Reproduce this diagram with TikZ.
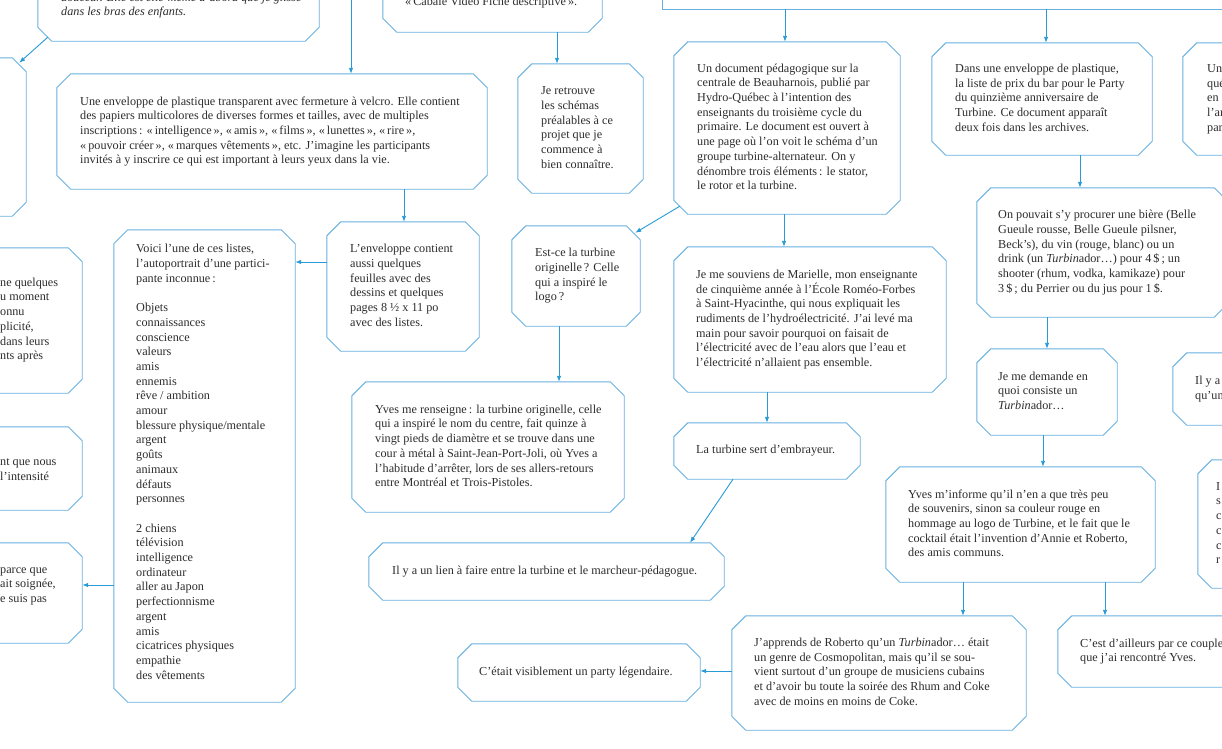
\documentclass[tikz,border=0pt]{standalone}
\usepackage{fontspec}
\setmainfont{Liberation Serif}
\usetikzlibrary{arrows.meta}
\definecolor{boxc}{RGB}{105,178,224}
\definecolor{arrc}{RGB}{40,155,215}
\definecolor{txtc}{RGB}{45,45,45}
\newcommand\boxtext[1]{\begin{tabular}{@{}l@{}}#1\end{tabular}}
\newcommand\chamfdraw[1]{%
  \draw[boxline] ([yshift=-14pt]#1.north west) -- ([xshift=14pt]#1.north west) -- ([xshift=-14pt]#1.north east) -- ([yshift=-14pt]#1.north east) -- ([yshift=14pt]#1.south east) -- ([xshift=-14pt]#1.south east) -- ([xshift=14pt]#1.south west) -- ([yshift=14pt]#1.south west) -- cycle;}
\newcommand\cboxe[5]{%
  \node[bx, minimum width={#4-(#2)}, minimum height={#5-(#3)}] (#1) at ({(#2+#4)/2},{(#3+#5)/2}) {};
  \chamfdraw{#1}}
\newcommand\cbox[8]{%
  \cboxe{#1}{#2}{#3}{#4}{#5}%
  \node[txt] (#1-t) at (#6,#7) {\boxtext{#8}};}
\newcommand\vconn[3]{\coordinate (vx) at (#3,0); \draw[arr] (#1.south -| vx) -- (#2.north -| vx);}
\newcommand\hconn[3]{\coordinate (hy) at (0,#3); \draw[arr] (#1.west |- hy) -- (#2.east |- hy);}
\tikzset{
  bx/.style={rectangle, draw=none, inner sep=0pt},
  boxline/.style={draw=boxc, line width=0.9pt},
  txt/.style={anchor=west, inner sep=0pt, text=txtc, font=\fontsize{12.2}{14.7}\selectfont},
  arr/.style={draw=arrc, line width=0.9pt, -{Latex[length=6pt,width=4.5pt]}}
}
\begin{document}
\begin{tikzpicture}[x=1pt,y=-1pt]
\useasboundingbox (0,0) rectangle (1222,748);
\fill[white] (0,0) rectangle (1222,748);
\clip (0,0) rectangle (1222,748);

% top row (cut)
\cboxe{tl}{38}{-120}{319}{41}
\node[txt] (tl-t) at (61,5.6) {\itshape\boxtext{douceur. Elle est elle-même d’abord que je glisse\\dans les bras des enfants.}};
\cboxe{lA}{-150}{58}{26}{216}
\cbox{tc}{383}{-100}{602}{32}{405}{3}{«\,Cabale Vidéo Fiche descriptive\,».}
\node[bx, boxline, minimum width=738, minimum height=109] (tr) at (1031,-45.5) {};

% left column
\cbox{B}{-150}{248}{82}{393}{0}{320}{ne quelques\\u moment\\onnu\\plicité,\\dans leurs\\nts après}
\cbox{C}{-150}{427}{82}{510}{0}{470}{nt que nous\\l’intensité}
\cbox{D}{-150}{543}{82}{643}{0}{585}{parce que\\ait soignée,\\e suis pas}

\cbox{env}{57}{74}{487}{189}{80}{131.5}{Une enveloppe de plastique transparent avec fermeture à velcro. Elle contient\\des papiers multicolores de diverses formes et tailles, avec de multiples\\inscriptions\,: «\,intelligence\,», «\,amis\,», «\,films\,», «\,lunettes\,», «\,rire\,»,\\«\,pouvoir créer\,», «\,marques vêtements\,», etc. J’imagine les participants\\invités à y inscrire ce qui est important à leurs yeux dans la vie.}
\cbox{jer}{518}{64}{643}{193}{541}{128.5}{Je retrouve\\les schémas\\préalables à ce\\projet que je\\commence à\\bien connaître.}
\cbox{doc}{674}{42}{900}{214}{697}{128}{Un document pédagogique sur la\\centrale de Beauharnois, publié par\\Hydro-Québec à l’intention des\\enseignants du troisième cycle du\\primaire. Le document est ouvert à\\une page où l’on voit le schéma d’un\\groupe turbine-alternateur. On y\\dénombre trois éléments\,: le stator,\\le rotor et la turbine.}
\cbox{dans}{932}{43}{1152}{155}{955}{99}{Dans une enveloppe de plastique,\\la liste de prix du bar pour le Party\\du quinzième anniversaire de\\Turbine. Ce document apparaît\\deux fois dans les archives.}
\cbox{uq}{1183}{43}{1400}{155}{1207}{99}{Un\\qué\\en a\\l’ar\\par}

\cbox{voici}{114}{230}{295}{702}{136}{463}{Voici l’une de ces listes,\\l’autoportrait d’une partici-\\pante inconnue\,:\\ \\Objets\\connaissances\\conscience\\valeurs\\amis\\ennemis\\rêve / ambition\\amour\\blessure physique/mentale\\argent\\goûts\\animaux\\défauts\\personnes\\ \\2 chiens\\télévision\\intelligence\\ordinateur\\aller au Japon\\perfectionnisme\\argent\\amis\\cicatrices physiques\\empathie\\des vêtements}
\cbox{lenv}{327}{222}{479}{351}{350}{286.5}{L’enveloppe contient\\aussi quelques\\feuilles avec des\\dessins et quelques\\pages 8 ½ x 11 po\\avec des listes.}
\cbox{estce}{512}{226}{640}{326}{535}{276}{Est-ce la turbine\\originelle\,? Celle\\qui a inspiré le\\logo\,?}
\cbox{yr}{352}{382}{624}{512}{375}{447}{Yves me renseigne\,: la turbine originelle, celle\\qui a inspiré le nom du centre, fait quinze à\\vingt pieds de diamètre et se trouve dans une\\cour à métal à Saint-Jean-Port-Joli, où Yves a\\l’habitude d’arrêter, lors de ses allers-retours\\entre Montréal et Trois-Pistoles.}
\cbox{souv}{674}{247}{946}{392}{696}{319.5}{Je me souviens de Marielle, mon enseignante\\de cinquième année à l’École Roméo-Forbes\\à Saint-Hyacinthe, qui nous expliquait les\\rudiments de l’hydroélectricité. J’ai levé ma\\main pour savoir pourquoi on faisait de\\l’électricité avec de l’eau alors que l’eau et\\l’électricité n’allaient pas ensemble.}
\cbox{emb}{674}{423}{860}{479}{696}{451}{La turbine sert d’embrayeur.}
\cbox{lien}{369}{543}{724}{600}{392}{571.5}{Il y a un lien à faire entre la turbine et le marcheur-pédagogue.}
\cbox{cet}{458}{644}{700}{701}{479}{672.5}{C’était visiblement un party légendaire.}

\cbox{onp}{977}{188}{1228}{317}{998}{252.5}{On pouvait s’y procurer une bière (Belle\\Gueule rousse, Belle Gueule pilsner,\\Beck’s), du vin (rouge, blanc) ou un\\drink (un \textit{Turbin}ador…) pour 4\,\$\,; un\\shooter (rhum, vodka, kamikaze) pour\\3\,\$\,; du Perrier ou du jus pour 1\,\$.}
\cbox{jmd}{977}{349}{1117}{435}{998}{392}{Je me demande en\\quoi consiste un\\\textit{Turbin}ador…}
\cbox{ilya}{1173}{353}{1400}{425}{1195}{389}{Il y a\\qu’un}
\cbox{ym}{886}{467}{1155}{582}{908}{524.5}{Yves m’informe qu’il n’en a que très peu\\de souvenirs, sinon sa couleur rouge en\\hommage au logo de Turbine, et le fait que le\\cocktail était l’invention d’Annie et Roberto,\\des amis communs.}
\cbox{rp}{1198}{460}{1400}{588}{1216}{524}{I\\s\\c\\c\\c\\r}
\cbox{japp}{732}{616}{1026}{730}{754}{673}{J’apprends de Roberto qu’un \textit{Turbin}ador… était\\un genre de Cosmopolitan, mais qu’il se sou-\\vient surtout d’un groupe de musiciens cubains\\et d’avoir bu toute la soirée des Rhum and Coke\\avec de moins en moins de Coke.}
\cbox{cest}{1058}{616}{1400}{687}{1080}{651.5}{C’est d’ailleurs par ce couple\\que j’ai rencontré Yves.}

% connectors
\draw[arr] ([xshift=10pt,yshift=4pt]tl.south west) -- ([xshift=-7pt,yshift=-5pt]lA.north east);
\coordinate (topsrc) at (351,-5);
\draw[arr] (topsrc) -- (topsrc |- env.north);
\vconn{tc}{jer}{557}
\vconn{env}{lenv}{404}
\vconn{tr}{doc}{785}
\vconn{tr}{dans}{1046}
\vconn{doc}{souv}{784}
\vconn{dans}{onp}{1080}
\vconn{onp}{jmd}{1047}
\vconn{jmd}{ym}{1043}
\vconn{ym}{japp}{963}
\vconn{ym}{cest}{1105}
\vconn{estce}{yr}{559}
\vconn{souv}{emb}{767}
\hconn{lenv}{voici}{262}
\hconn{voici}{D}{585}
\hconn{japp}{cet}{671}
\draw[arr] ([xshift=6pt,yshift=8pt]doc.south west) -- ([xshift=-5pt,yshift=-7pt]estce.north east);
\draw[arr] ([xshift=-34pt]emb.south) -- ([xshift=143.5pt]lien.north);
\end{tikzpicture}
\end{document}
